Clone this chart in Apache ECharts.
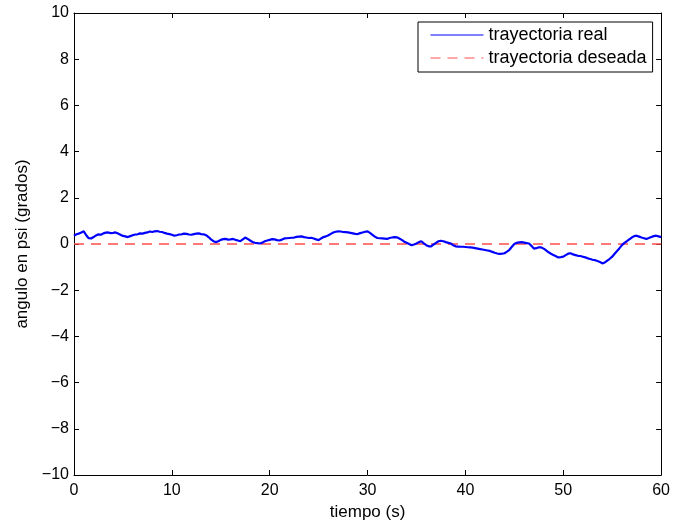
<!DOCTYPE html>
<html>
<head>
<meta charset="utf-8">
<script src="https://cdn.jsdelivr.net/npm/echarts@6/dist/echarts.min.js"></script>
<style>
html,body{margin:0;padding:0;background:#fff;}
#chart{width:673px;height:529px;}
</style>
</head>
<body>
<div id="chart"></div>
<script>
// sampling period of the measured trajectory (s)
const sampleStep = 0.25;
// trayectoria real (grados), sampled every 0.25 s from t = 0 to 60 s
const realValues = [
  0.36,0.42,0.45,0.50,0.55,0.38,0.25,0.24,0.30,0.37,0.42,0.40,0.46,0.49,0.50,0.47,0.48,0.50,0.45,0.40,
  0.35,0.33,0.30,0.34,0.38,0.41,0.42,0.46,0.45,0.48,0.50,0.54,0.52,0.55,0.56,0.53,0.52,0.48,0.45,0.43,
  0.40,
  0.36,0.38,0.41,0.42,0.45,0.44,0.41,0.40,0.43,0.45,0.46,0.43,0.42,0.38,0.30,0.20,0.12,0.08,0.12,0.18,
  0.21,0.22,0.19,0.20,0.22,0.18,0.15,0.12,0.20,0.28,0.22,0.15,0.09,0.05,0.04,0.02,0.06,0.12,0.15,0.18,
  0.21,0.20,0.17,0.15,0.19,0.24,0.25,0.26,0.27,0.28,0.31,0.32,0.33,0.30,0.28,0.26,0.27,0.24,0.20,0.17,
  0.24,0.30,0.33,0.38,0.44,0.50,0.53,0.55,0.54,0.52,0.51,0.50,0.48,0.46,0.44,0.43,0.47,0.50,0.53,0.55,
  0.48,0.40,0.32,0.26,0.25,0.24,0.23,0.22,0.26,0.28,0.30,0.29,0.24,0.18,0.10,0.05,0.00,-0.05,-0.02,0.02,
  0.08,0.12,0.03,-0.05,-0.10,-0.10,-0.02,0.05,0.12,0.14,0.12,0.08,0.05,0.02,-0.05,-0.10,-0.11,-0.12,-0.12,-0.13,
  -0.14,-0.15,-0.16,-0.18,-0.20,-0.22,-0.24,-0.26,-0.28,-0.30,-0.34,-0.38,-0.41,-0.43,-0.42,-0.40,-0.33,-0.25,-0.12,0.00,
  0.05,0.07,0.08,0.06,0.04,0.02,-0.08,-0.20,-0.18,-0.14,-0.15,-0.20,-0.28,-0.36,-0.42,-0.48,-0.53,-0.58,-0.57,-0.55,
  -0.48,-0.42,-0.40,-0.45,-0.48,-0.51,-0.52,-0.55,-0.58,-0.62,-0.65,-0.68,-0.70,-0.74,-0.78,-0.84,-0.80,-0.72,-0.64,-0.55,
  -0.42,-0.30,-0.18,-0.05,0.05,0.12,0.20,0.28,0.34,0.36,0.32,0.28,0.25,0.22,0.26,0.30,0.34,0.36,0.33,0.30
];
// trayectoria deseada: constant reference
const desiredTimes = [0, 60];
const desiredValues = [0, 0];
const seriesNames = ['trayectoria real', 'trayectoria deseada'];
const xLimits = [0, 60];
const yLimits = [-10, 10];
const xStep = 10;
const yStep = 2;

const realData = realValues.map((v, i) => [i * sampleStep, v]);
const desiredData = desiredTimes.map((t, i) => [t, desiredValues[i]]);

const FONT = 'Liberation Sans';
const minus = v => String(v).replace('-', '\u2212');

const chart = echarts.init(document.getElementById('chart'), null, {renderer: 'canvas'});
const axisLineStyle = {show: true, onZero: false, lineStyle: {color: '#000', width: 1}};
const tickStyle = {show: true, inside: true, length: 5, lineStyle: {color: '#000', width: 1}};

chart.setOption({
  animation: false,
  backgroundColor: '#fff',
  grid: {left: 74, right: 11, top: 13, bottom: 54, containLabel: false},
  legend: {
    show: true,
    orient: 'vertical',
    left: 418,
    top: 22,
    padding: [4, 6, 5, 12],
    itemWidth: 53,
    itemHeight: 14,
    itemGap: 5,
    borderColor: '#000',
    borderWidth: 1,
    backgroundColor: '#fff',
    selectedMode: false,
    itemStyle: {opacity: 0},
    lineStyle: {width: 1},
    textStyle: {fontFamily: FONT, fontSize: 18, color: '#000', lineHeight: 18},
    data: seriesNames
  },
  xAxis: [
    {
      type: 'value', position: 'bottom', min: xLimits[0], max: xLimits[1], interval: xStep,
      name: 'tiempo (s)', nameLocation: 'middle', nameGap: 28,
      nameTextStyle: {fontFamily: FONT, fontSize: 17, color: '#000'},
      axisLine: axisLineStyle, axisTick: tickStyle,
      axisLabel: {fontFamily: FONT, fontSize: 16, color: '#000', margin: 8},
      splitLine: {show: false}
    },
    {
      type: 'value', position: 'top', min: xLimits[0], max: xLimits[1], interval: xStep,
      axisLine: axisLineStyle, axisTick: tickStyle,
      axisLabel: {show: false}, splitLine: {show: false}
    }
  ],
  yAxis: [
    {
      type: 'value', position: 'left', min: yLimits[0], max: yLimits[1], interval: yStep,
      name: 'angulo en psi (grados)', nameLocation: 'middle', nameGap: 39, nameRotate: 90,
      nameTextStyle: {fontFamily: FONT, fontSize: 17, color: '#000'},
      axisLine: axisLineStyle, axisTick: tickStyle,
      axisLabel: {fontFamily: FONT, fontSize: 16, color: '#000', margin: 5, formatter: minus},
      splitLine: {show: false}
    },
    {
      type: 'value', position: 'right', min: yLimits[0], max: yLimits[1], interval: yStep,
      axisLine: axisLineStyle, axisTick: tickStyle,
      axisLabel: {show: false}, splitLine: {show: false}
    }
  ],
  series: [
    {
      name: seriesNames[0], type: 'line', data: realData,
      xAxisIndex: 0, yAxisIndex: 0,
      showSymbol: false, symbol: 'none', smooth: false,
      lineStyle: {color: '#0000ff', width: 2.2},
      itemStyle: {color: '#0000ff'},
      z: 3
    },
    {
      name: seriesNames[1], type: 'line', data: desiredData,
      xAxisIndex: 0, yAxisIndex: 0,
      showSymbol: false, symbol: 'none',
      lineStyle: {color: '#ff4d4d', width: 1.5, type: [10, 7]},
      itemStyle: {color: '#ff4d4d'},
      z: 2
    }
  ]
});
</script>
</body>
</html>
